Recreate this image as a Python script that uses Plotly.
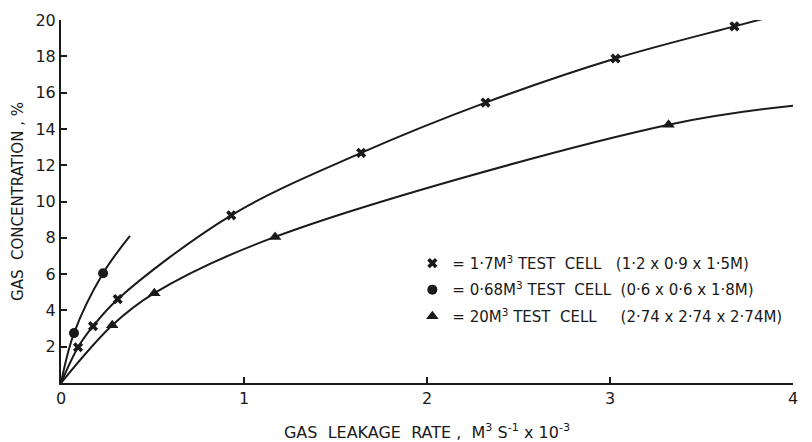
import plotly.graph_objects as go

# ---- data ----
# 1.7 m3 test cell (crosses)
cell17_x = [0.093, 0.175, 0.31, 0.93, 1.64, 2.32, 3.03, 3.68]
cell17_y = [1.97, 3.13, 4.62, 9.24, 12.68, 15.45, 17.88, 19.65]
cell17_curve_x = [0.0, 0.093, 0.175, 0.31, 0.93, 1.64, 2.32, 3.03, 3.68, 3.85]
cell17_curve_y = [0.0, 1.97, 3.13, 4.62, 9.24, 12.68, 15.45, 17.88, 19.65, 20.1]

# 0.68 m3 test cell (circles)
cell068_x = [0.071, 0.23]
cell068_y = [2.75, 6.05]
cell068_curve_x = [0.0, 0.071, 0.23, 0.377]
cell068_curve_y = [0.0, 2.75, 6.05, 8.1]

# 20 m3 test cell (triangles)
cell20_x = [0.28, 0.51, 1.17, 3.32]
cell20_y = [3.18, 4.95, 8.05, 14.23]
cell20_curve_x = [0.0, 0.28, 0.51, 1.17, 3.32, 4.06]
cell20_curve_y = [0.0, 3.18, 4.95, 8.05, 14.23, 15.34]

x_ticks = [0, 1, 2, 3, 4]
y_ticks = [2, 4, 6, 8, 10, 12, 14, 16, 18, 20]

legend_names = [
    "= 1·7M<sup>3</sup> TEST  CELL   (1·2 x 0·9 x 1·5M)",
    "= 0·68M<sup>3</sup> TEST  CELL  (0·6 x 0·6 x 1·8M)",
    "= 20M<sup>3</sup> TEST  CELL     (2·74 x 2·74 x 2·74M)",
]

FONT = "DejaVu Sans, Arial"
INK = "#1a1a1a"

fig = go.Figure()

line_style = dict(color=INK, width=2, shape="spline", smoothing=1.0)
for cx, cy in [(cell17_curve_x, cell17_curve_y),
               (cell068_curve_x, cell068_curve_y),
               (cell20_curve_x, cell20_curve_y)]:
    fig.add_trace(go.Scatter(x=cx, y=cy, mode="lines", line=line_style,
                             showlegend=False, hoverinfo="skip"))

fig.add_trace(go.Scatter(x=cell17_x, y=cell17_y, mode="markers", name=legend_names[0],
                         legendgroup="a",
                         marker=dict(symbol="x", size=9, color=INK)))
fig.add_trace(go.Scatter(x=cell068_x, y=cell068_y, mode="markers", name=legend_names[1],
                         legendgroup="b",
                         marker=dict(symbol="circle", size=10, color=INK)))
fig.add_trace(go.Scatter(x=cell20_x, y=cell20_y, mode="markers", name=legend_names[2],
                         legendgroup="c",
                         marker=dict(symbol="triangle-up", size=11, color=INK)))

fig.update_layout(
    width=812, height=442,
    margin=dict(l=61, r=19, t=20, b=59),
    paper_bgcolor="white", plot_bgcolor="white",
    font=dict(family=FONT, color=INK, size=14),
    legend=dict(x=0.48, y=0.375, xanchor="left", yanchor="top",
                bgcolor="rgba(0,0,0,0)", font=dict(size=15, family=FONT, color=INK),
                tracegroupgap=4, itemwidth=30),
    xaxis=dict(range=[0, 4], tickvals=x_ticks, ticktext=[str(v) for v in x_ticks],
               showline=True, linecolor=INK, linewidth=2, ticks="inside",
               ticklen=6, tickwidth=2, tickcolor=INK, showgrid=False, zeroline=False,
               tickfont=dict(size=16, family=FONT), automargin=False,
               title=dict(text="GAS  LEAKAGE  RATE ,  M<sup>3</sup> S<sup>-1</sup> x 10<sup>-3</sup>",
                          font=dict(size=16, family=FONT), standoff=21)),
    yaxis=dict(range=[0, 20], tickvals=y_ticks, ticktext=[str(v) for v in y_ticks],
               showline=True, linecolor=INK, linewidth=2, ticks="inside",
               ticklen=6, tickwidth=2, tickcolor=INK, showgrid=False, zeroline=False,
               tickfont=dict(size=16, family=FONT), automargin=False,
               title=dict(text="GAS  CONCENTRATION , %", font=dict(size=15, family=FONT),
                          standoff=8)),
)

fig.write_html("out.html")
